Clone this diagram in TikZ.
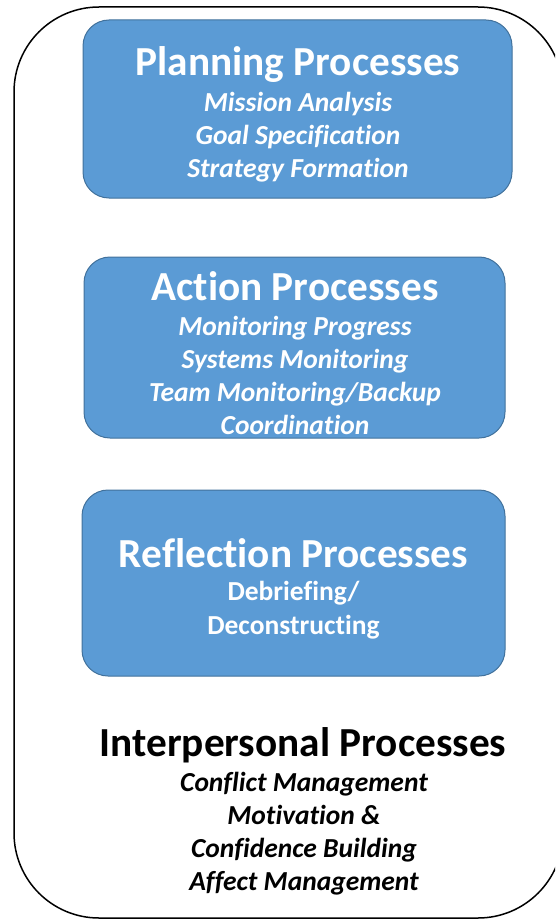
\documentclass[tikz,border=0pt]{standalone}
\usepackage{fontspec}
\setmainfont{Carlito}[Ligatures=NoCommon]
\definecolor{boxfill}{HTML}{5B9BD5}
\definecolor{boxline}{HTML}{41719C}
\begin{document}
\begin{tikzpicture}[x=1pt,y=-1pt,
  procbox/.style={draw=boxline, line width=1pt, fill=boxfill, rounded corners=26pt, inner sep=0pt},
  titletext/.style={text=white, font=\fontsize{41.3}{46}\selectfont\bfseries, inner sep=0pt},
  itemtext/.style={text=white, font=\fontsize{27.5}{33}\selectfont\bfseries\itshape, align=center, inner sep=0pt},
  plaintext/.style={text=white, font=\fontsize{27.5}{34}\selectfont\bfseries, align=center, inner sep=0pt}]
\useasboundingbox (0,0) rectangle (555,920);
\begin{scope}
\clip (0,0) rectangle (555,920);
\draw[line width=1.5pt, rounded corners=85pt] (14,7) rectangle (563,918);
\end{scope}
% Planning
\node[procbox, minimum width=429pt, minimum height=178pt] (plan) at (297.5,109) {};
\node[titletext] (plant) at (298,65) {Planning Processes};
\node[itemtext] (planl) at (298,137.5) {Mission Analysis\\Goal Specification\\Strategy Formation};
% Action
\node[procbox, minimum width=421pt, minimum height=181pt] (act) at (294.5,347.5) {};
\node[titletext] (actt) at (295,286) {Action Processes};
\node[itemtext] (actl) at (295,375.5) {Monitoring Progress\\Systems Monitoring\\Team Monitoring/Backup\\Coordination};
% Reflection
\node[procbox, minimum width=423pt, minimum height=186pt] (refl) at (293.5,583) {};
\node[titletext] (reflt) at (293.5,553) {Reflection Processes};
\node[plaintext] (refll) at (293.5,610.5) {Debriefing/\\Deconstructing};
% Interpersonal
\node[titletext, text=black] (intt) at (303,745) {Interpersonal Processes};
\node[itemtext, text=black] (intl) at (304,834) {Conflict Management\\Motivation \&\\Confidence Building\\Affect Management};
\end{tikzpicture}
\end{document}
